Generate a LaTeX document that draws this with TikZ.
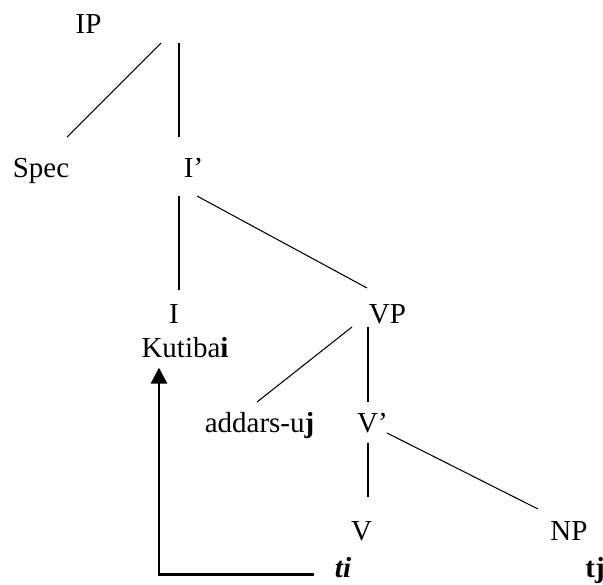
\documentclass[tikz,border=0pt]{standalone}
\usepackage{fontspec}
\setmainfont{Liberation Serif}
\usepackage{tikz}
\usetikzlibrary{arrows.meta,calc}

\begin{document}
\begin{tikzpicture}[
  >={Triangle[length=3.2mm,width=3.2mm]},
  lbl/.style={anchor=base, inner sep=0pt, font=\fontsize{16.5}{20}\selectfont},
  branch/.style={line width=0.6pt},
  move/.style={->, line width=1.7pt}
]
\useasboundingbox (0,0) rectangle (12.06,-11.68);

% labels of the tree
\node[lbl] (ip) at (1.77,-0.66) {IP};
\node[lbl] (spec) at (0.82,-3.54) {Spec};
\node[lbl] (ibar) at (3.87,-3.54) {I’};
\node[lbl] (i) at (3.48,-6.46) {I};
\node[lbl] (kutibai) at (3.70,-7.14) {Kutiba\textbf{i}};
\node[lbl] (vp) at (7.75,-6.46) {VP};
\node[lbl] (addars) at (5.19,-8.64) {addars-u\textbf{j}};
\node[lbl] (vbar) at (7.45,-8.64) {V’};
\node[lbl] (v) at (7.23,-10.80) {V};
\node[lbl] (np) at (11.38,-10.80) {NP};
\node[lbl] (ti) at (6.86,-11.54) {\textbf{\textit{ti}}};
\node[lbl] (tj) at (11.90,-11.54) {\textbf{tj}};

% branch ends
\coordinate (ip-l) at (3.22,-0.86);
\coordinate (ip-r) at (3.58,-0.86);
\coordinate (spec-t) at (1.34,-2.74);
\coordinate (ibar-t) at (3.58,-2.74);
\coordinate (ibar-l) at (3.58,-3.92);
\coordinate (ibar-r) at (3.94,-3.92);
\coordinate (i-t) at (3.58,-5.80);
\coordinate (vp-t) at (7.34,-5.76);
\coordinate (vp-l) at (7.04,-6.54);
\coordinate (vp-r) at (7.36,-6.54);
\coordinate (addars-t) at (5.14,-8.04);
\coordinate (vbar-t) at (7.36,-8.04);
\coordinate (vbar-l) at (7.36,-8.86);
\coordinate (vbar-r) at (7.74,-8.66);
\coordinate (v-t) at (7.36,-9.94);
\coordinate (np-t) at (10.76,-10.18);

\draw[branch] (ip-l) -- (spec-t);
\draw[branch] (ip-r) -- (ibar-t);
\draw[branch] (ibar-l) -- (i-t);
\draw[branch] (ibar-r) -- (vp-t);
\draw[branch] (vp-l) -- (addars-t);
\draw[branch] (vp-r) -- (vbar-t);
\draw[branch] (vbar-l) -- (v-t);
\draw[branch] (vbar-r) -- (np-t);

% head movement of the verb
\draw[move] ([xshift=-4.2mm,yshift=0.6mm]ti.base west) -| ([xshift=-5.2mm,yshift=-2mm]kutibai.south);
\end{tikzpicture}
\end{document}
